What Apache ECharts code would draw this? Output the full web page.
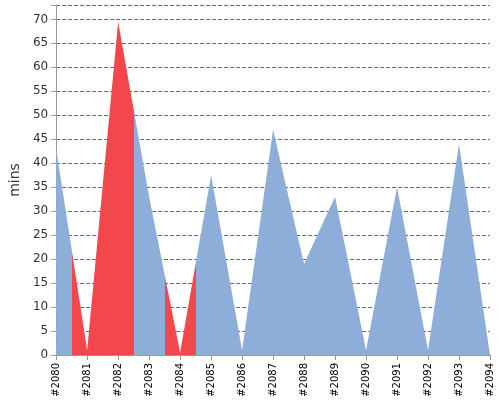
<!DOCTYPE html>
<html><head><meta charset="utf-8">
<script src="https://cdn.jsdelivr.net/npm/echarts@6/dist/echarts.min.js"></script>
<style>html,body{margin:0;padding:0;background:#fff}#c{width:500px;height:400px}</style>
</head><body><div id="c"></div>
<script>
const categories = ['#2080','#2081','#2082','#2083','#2084','#2085','#2086','#2087','#2088','#2089','#2090','#2091','#2092','#2093','#2094'];
const values = [43, 1, 69.5, 33, 0.5, 37.5, 1, 47, 19, 33, 1, 35, 1, 44, 0];
const redRanges = [[0.5, 2.5], [3.5, 4.5]];
const yTicks = {min: 0, max: 73, interval: 5};

const BLUE = '#8daed9', RED = '#f2484c';
const span = categories.length - 1;
const stops = [{offset: 0, color: BLUE}];
redRanges.forEach(r => {
  const a = r[0] / span, b = r[1] / span;
  stops.push({offset: a, color: BLUE}, {offset: a, color: RED},
             {offset: b, color: RED}, {offset: b, color: BLUE});
});
stops.push({offset: 1, color: BLUE});

const chart = echarts.init(document.getElementById('c'));
chart.setOption({
  animation: false,
  grid: {left: 51, right: 10, top: 5, bottom: 45},
  xAxis: {
    type: 'category', data: categories, boundaryGap: false,
    axisLine: {lineStyle: {color: '#999'}},
    axisTick: {show: true, lineStyle: {color: '#999'}},
    axisLabel: {rotate: 90, color: '#000', fontSize: 10, interval: 0, fontFamily: 'DejaVu Sans'},
    splitLine: {show: false}
  },
  yAxis: {
    type: 'value', min: yTicks.min, max: yTicks.max, interval: yTicks.interval,
    name: 'mins', nameLocation: 'middle', nameGap: 32,
    nameTextStyle: {fontSize: 14, color: '#333', fontFamily: 'DejaVu Sans'},
    axisLine: {show: true, lineStyle: {color: '#999'}},
    axisTick: {show: true, lineStyle: {color: '#999'}},
    axisLabel: {color: '#333', fontSize: 12, fontFamily: 'DejaVu Sans',
      formatter: v => v % 5 === 0 && v <= 70 ? v : ''},
    splitLine: {lineStyle: {type: 'dashed', color: '#666'}}
  },
  series: [{
    type: 'line', data: values, symbol: 'none',
    lineStyle: {width: 0},
    areaStyle: {opacity: 1, color: new echarts.graphic.LinearGradient(0, 0, 1, 0, stops)}
  }]
});
</script></body></html>
